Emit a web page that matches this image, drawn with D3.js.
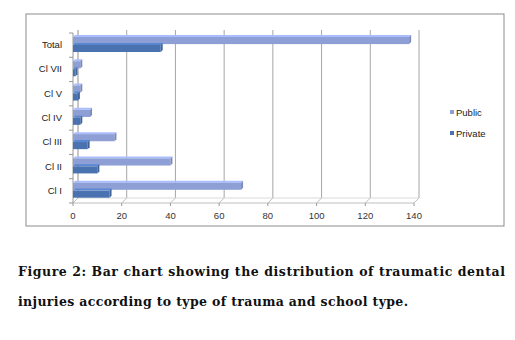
<!DOCTYPE html>
<html>
<head>
  <meta charset="utf-8">
  <script src="https://d3js.org/d3.v7.min.js"></script>
  <style>
    body { margin: 0; background: #fff; }
    .tick-label { font-family: "Liberation Sans", sans-serif; font-size: 9.5px; fill: #333; }
    .cat-label { font-family: "Liberation Sans", sans-serif; font-size: 9.5px; fill: #222; }
    .caption { font-family: "DejaVu Serif", serif; font-weight: bold; font-size: 12.5px; fill: #111; }
  </style>
</head>
<body>
  <svg width="515" height="340"></svg>
  <script>
    const categories = ['Total', 'Cl VII', 'Cl V', 'Cl IV', 'Cl III', 'Cl II', 'Cl I'];
    const seriesNames = ['Public', 'Private'];
    const publicValues = [138, 3, 3, 7, 17, 40, 69];
    const privateValues = [36, 1, 2, 3, 6, 10, 15];
    const xTicks = [0, 20, 40, 60, 80, 100, 120, 140];
    const colors = { Public: '#8e9fd6', Private: '#4a72b0' };

    const depth = 5;
    const svg = d3.select('svg');

    // chart frame
    svg.append('rect')
      .attr('x', 26).attr('y', 14)
      .attr('width', 478).attr('height', 212)
      .attr('fill', 'none').attr('stroke', '#8c8c8c').attr('stroke-width', 1);

    const x = d3.scaleLinear().domain([0, 140]).range([73, 414]);
    const y = d3.scaleBand().domain(categories).range([33, 203]);
    const ySeries = d3.scaleBand().domain(seriesNames).range([4, 19]).paddingInner(0.1);

    // back wall gridlines
    svg.selectAll('.grid').data(xTicks).enter().append('line')
      .attr('x1', d => x(d) + depth).attr('x2', d => x(d) + depth)
      .attr('y1', 30).attr('y2', 203 - depth)
      .attr('stroke', '#a6a6a6').attr('stroke-width', 1);

    // floor
    svg.append('line')
      .attr('x1', x(0)).attr('x2', x(140))
      .attr('y1', 203).attr('y2', 203)
      .attr('stroke', '#bfbfbf');
    svg.append('line')
      .attr('x1', x(0) + depth).attr('x2', x(140) + depth)
      .attr('y1', 203 - depth).attr('y2', 203 - depth)
      .attr('stroke', '#d9d9d9');
    svg.selectAll('.floor-diag').data(xTicks).enter().append('line')
      .attr('x1', d => x(d)).attr('x2', d => x(d) + depth)
      .attr('y1', 203).attr('y2', 203 - depth)
      .attr('stroke', '#bfbfbf');
    svg.selectAll('.floor-tick').data(xTicks).enter().append('line')
      .attr('x1', d => x(d)).attr('x2', d => x(d))
      .attr('y1', 203).attr('y2', 206)
      .attr('stroke', '#999');

    // left wall
    svg.append('line')
      .attr('x1', x(0)).attr('x2', x(0))
      .attr('y1', 33).attr('y2', 203)
      .attr('stroke', '#999');
    svg.append('line')
      .attr('x1', x(0) + depth).attr('x2', x(0) + depth)
      .attr('y1', 30).attr('y2', 198)
      .attr('stroke', '#bbb');
    svg.selectAll('.cat-tick').data(categories.concat(['end'])).enter().append('line')
      .attr('x1', x(0) - 4).attr('x2', x(0))
      .attr('y1', (d, i) => 33 + i * y.step())
      .attr('y2', (d, i) => 33 + i * y.step())
      .attr('stroke', '#999');

    // bars
    const rows = categories.map((c, i) => ({ cat: c, Public: publicValues[i], Private: privateValues[i] }));
    const g = svg.append('g');
    seriesNames.forEach(s => {
      const h = ySeries.bandwidth();
      const bars = g.selectAll('.bar-' + s).data(rows).enter().append('g');
      // top face
      bars.append('path')
        .attr('d', d => {
          const y0 = y(d.cat) + ySeries(s);
          const x0 = x(0), x1 = x(d[s]);
          return `M${x0},${y0} L${x0 + 2},${y0 - 2} L${x1 + 2},${y0 - 2} L${x1},${y0} Z`;
        })
        .attr('fill', d3.color(colors[s]).brighter(0.5));
      // front face
      bars.append('rect')
        .attr('x', x(0))
        .attr('y', d => y(d.cat) + ySeries(s))
        .attr('width', d => x(d[s]) - x(0))
        .attr('height', h)
        .attr('fill', colors[s]);
      // end cap
      bars.append('path')
        .attr('d', d => {
          const y0 = y(d.cat) + ySeries(s);
          const x1 = x(d[s]);
          return `M${x1},${y0} L${x1 + 2},${y0 - 2} L${x1 + 2},${y0 + h - 2} L${x1},${y0 + h} Z`;
        })
        .attr('fill', d3.color(colors[s]).darker(0.4));
    });

    // category labels
    svg.selectAll('.cat-label').data(categories).enter().append('text')
      .attr('class', 'cat-label')
      .attr('x', 62)
      .attr('y', d => y(d) + y.bandwidth() / 2 + 3)
      .attr('text-anchor', 'end')
      .text(d => d);

    // x tick labels
    svg.selectAll('.tick-label').data(xTicks).enter().append('text')
      .attr('class', 'tick-label')
      .attr('x', d => x(d))
      .attr('y', 219)
      .attr('text-anchor', 'middle')
      .text(d => d);

    // legend
    const legend = svg.append('g').attr('transform', 'translate(450,113)');
    seriesNames.forEach((s, i) => {
      legend.append('rect')
        .attr('x', 0).attr('y', i * 21 - 3)
        .attr('width', 4).attr('height', 4)
        .attr('fill', colors[s]);
      legend.append('text')
        .attr('class', 'cat-label')
        .attr('x', 6).attr('y', i * 21 + 3)
        .text(s);
    });

    // caption
    svg.append('text')
      .attr('class', 'caption')
      .attr('x', 18).attr('y', 276)
      .attr('textLength', 487).attr('lengthAdjust', 'spacing')
      .text('Figure 2: Bar chart showing the distribution of traumatic dental');
    svg.append('text')
      .attr('class', 'caption')
      .attr('x', 18).attr('y', 306)
      .attr('textLength', 390).attr('lengthAdjust', 'spacing')
      .text('injuries according to type of trauma and school type.');
  </script>
</body>
</html>
